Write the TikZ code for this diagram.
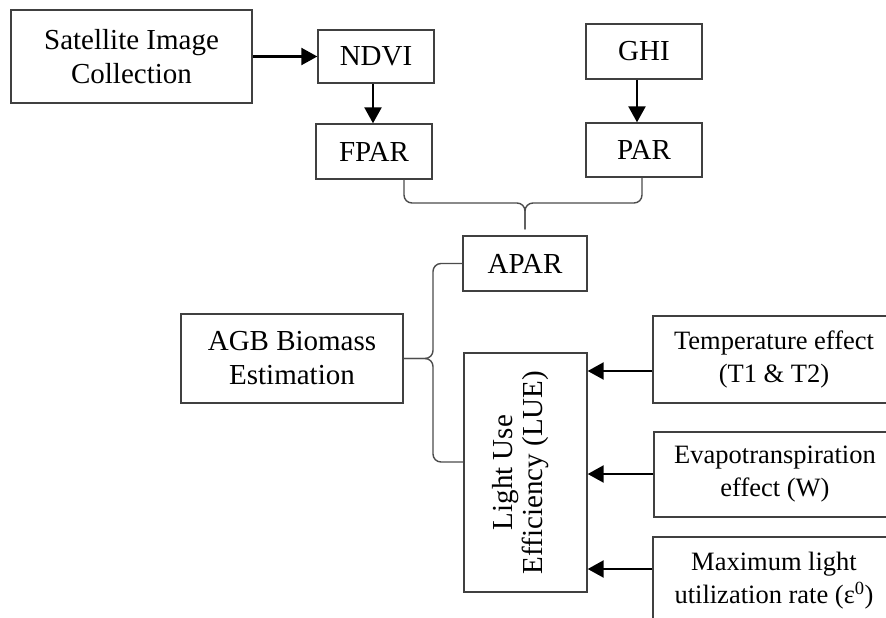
\documentclass[tikz,border=0pt]{standalone}
\usepackage{fontspec}
\setmainfont{Liberation Serif}
\usetikzlibrary{arrows.meta,calc}
\begin{document}
\begin{tikzpicture}[x=1pt,y=-1pt,
  box/.style={draw=black!75, line width=1.4pt, fill=white, inner sep=0pt, align=center,
    font=\fontsize{29}{34}\selectfont},
  rbox/.style={box, font=\fontsize{26.5}{33}\selectfont},
  arr/.style={line width=2.4pt, black, -{Triangle[length=16pt,width=17pt]}},
  brace/.style={draw=black!70, line width=1.4pt, rounded corners=8pt}]
\useasboundingbox (0,0) rectangle (886,618);
\clip (0,0) rectangle (886,618);
\fill[white] (0,0) rectangle (886,618);

\node[box, minimum width=241, minimum height=93] (sat) at (131.5,56.5) {Satellite Image\\Collection};
\node[box, minimum width=116, minimum height=53] (ndvi) at (376,56.5) {NDVI};
\node[box, minimum width=116, minimum height=55] (fpar) at (374,151.5) {FPAR};
\node[box, minimum width=116, minimum height=55] (ghi) at (644,51.5) {GHI};
\node[box, minimum width=116, minimum height=54] (par) at (644,150) {PAR};
\node[box, minimum width=124, minimum height=55] (apar) at (525,263.5) {APAR};
\node[box, minimum width=222, minimum height=89] (agb) at (292,358.5) {AGB Biomass\\Estimation};
\node[box, minimum width=123, minimum height=239] (lue) at (525.5,472.5)
  {\hspace*{-8pt}\fontsize{29}{30}\selectfont\rotatebox{90}{\begin{tabular}{@{}c@{}}Light Use\\Efficiency (LUE)\end{tabular}}};
\node[rbox, minimum width=242, minimum height=87] (temp) at (774,359.5) {Temperature effect\\(T1 \& T2)};
\node[rbox, minimum width=242, minimum height=85] (evap) at (775,474.5) {Evapotranspiration\\effect (W)};
\node[rbox, minimum width=242, minimum height=88] (maxl) at (774,581) {Maximum light\\utilization rate (ε\textsuperscript{0})};

% arrows
\draw[arr] (sat.east) -- (ndvi.west);
\draw[arr] ([xshift=-3pt]ndvi.south) -- ([xshift=-3pt]ndvi.south |- fpar.north);
\draw[arr] ([xshift=-7pt]ghi.south) -- ([xshift=-7pt]ghi.south |- par.north);
\draw[arr] (temp.west |- 0,371) -- (lue.east |- 0,371);
\draw[arr] (evap.west |- 0,474) -- (lue.east |- 0,474);
\draw[arr] (maxl.west |- 0,569) -- (lue.east |- 0,569);

% top brace
\coordinate (fb) at ([xshift=30pt]fpar.south);
\coordinate (pb) at ([xshift=-2pt]par.south);
\coordinate (tip) at ([yshift=6pt]apar.north);
\coordinate (by) at (0,203);
\draw[brace] (fb) |- (tip |- by) -- (tip);
\draw[brace] (pb) |- (tip |- by) -- (tip);

% left brace
\coordinate (bx) at (433,0);
\draw[brace] (apar.west) -| (bx |- agb.east) -- (agb.east);
\draw[brace] (lue.west |- 0,462) -| (bx |- agb.east) -- (agb.east);
\end{tikzpicture}
\end{document}
